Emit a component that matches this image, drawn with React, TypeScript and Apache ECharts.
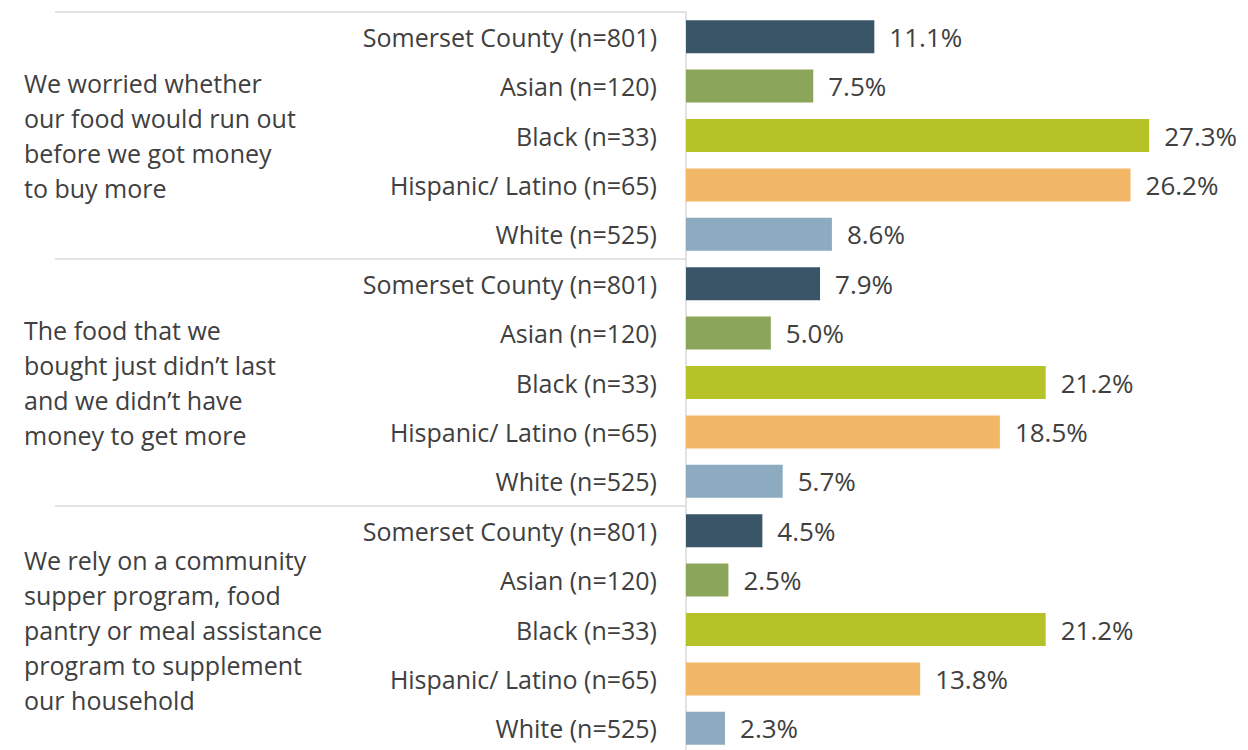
import React, { useEffect, useRef } from "react";
import * as echarts from "echarts";

const groups: string[] = [
  "We worried whether\nour food would run out\nbefore we got money\nto buy more",
  "The food that we\nbought just didn\u2019t last\nand we didn\u2019t have\nmoney to get more",
  "We rely on a community\nsupper program, food\npantry or meal assistance\nprogram to supplement\nour household",
];

const subgroups: string[] = [
  "Somerset County (n=801)",
  "Asian (n=120)",
  "Black (n=33)",
  "Hispanic/ Latino (n=65)",
  "White (n=525)",
];

const colors: string[] = ["#3b5568", "#8ba65b", "#b5c228", "#f2b766", "#8dabc0"];

const worriedValues: number[] = [11.1, 7.5, 27.3, 26.2, 8.6];
const didntLastValues: number[] = [7.9, 5.0, 21.2, 18.5, 5.7];
const relyValues: number[] = [4.5, 2.5, 21.2, 13.8, 2.3];

export default function App() {
  const ref = useRef<HTMLDivElement>(null);

  useEffect(() => {
    if (!ref.current) return;
    const chart = echarts.init(ref.current, null, { renderer: "svg" });

    const allValues = [...worriedValues, ...didntLastValues, ...relyValues];
    const categories: string[] = [];
    groups.forEach(() => subgroups.forEach((s) => categories.push(s)));

    const font = "'Open Sans', 'Noto Sans', sans-serif";

    chart.setOption({
      animation: false,
      grid: {
        left: 686,
        top: 12,
        width: 509,
        height: 741,
        containLabel: false,
        outerBoundsMode: "none",
      },
      xAxis: {
        type: "value",
        min: 0,
        max: 30,
        show: false,
      },
      yAxis: [
        {
          type: "category",
          inverse: true,
          data: categories,
          position: "left",
          axisLine: { show: true, lineStyle: { color: "#d9d9d9", width: 1.5 } },
          axisTick: { show: false },
          axisLabel: {
            margin: 29,
            color: "#404040",
            fontSize: 25,
            fontFamily: font,
            interval: 0,
          },
        },
        {
          type: "category",
          inverse: true,
          data: groups,
          position: "left",
          axisLine: { show: false },
          axisTick: {
            show: true,
            length: 631,
            lineStyle: { color: "#d9d9d9", width: 1.5 },
          },
          axisLabel: {
            align: "left",
            margin: 662,
            color: "#404040",
            fontSize: 25,
            lineHeight: 35,
            fontFamily: font,
            interval: 0,
          },
        },
      ],
      series: [
        {
          type: "bar",
          yAxisIndex: 0,
          barWidth: 33,
          data: allValues.map((v, i) => ({
            value: v,
            itemStyle: { color: colors[i % subgroups.length] },
          })),
          label: {
            show: true,
            position: "right",
            distance: 15,
            color: "#404040",
            fontSize: 26,
            fontFamily: font,
            formatter: (p: any) => `${Number(p.value).toFixed(1)}%`,
          },
        },
      ],
    });

    return () => chart.dispose();
  }, []);

  return (
    <div
      style={{
        position: "absolute",
        left: 0,
        top: 0,
        width: 1248,
        height: 750,
        overflow: "hidden",
        background: "#fff",
      }}
    >
      <div ref={ref} style={{ width: 1248, height: 770 }} />
    </div>
  );
}
